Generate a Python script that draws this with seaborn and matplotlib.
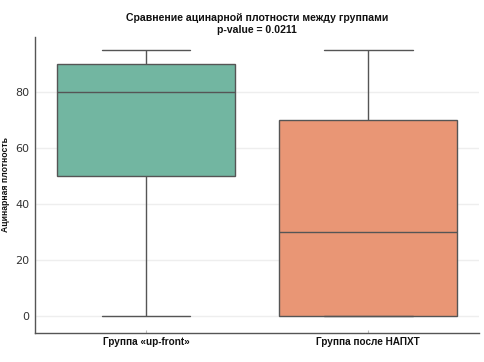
import pandas as pd
import numpy as np
import seaborn as sns
import matplotlib.pyplot as plt

# Данные
groups = ['Группа «up-front»', 'Группа после НАПХТ']
upfront = [0, 50, 50, 80, 90, 90, 95]
napxt = [0, 0, 0, 30, 70, 70, 95]
p_value = 0.0211

df = pd.DataFrame({
    'Группа': [groups[0]] * len(upfront) + [groups[1]] * len(napxt),
    'Ацинарная плотность': upfront + napxt,
})

sns.set_style('ticks')
plt.rcParams['font.family'] = ['DejaVu Sans']

fig = plt.figure(figsize=(4.85, 3.62), dpi=100)
ax = fig.add_axes([0.072, 0.08, 0.916, 0.818])

sns.boxplot(data=df, x='Группа', y='Ацинарная плотность', hue='Группа',
            palette='Set2', ax=ax, linewidth=1, linecolor='#555555', legend=False)

ax.yaxis.grid(True, color='#eeeeee', linewidth=1)
ax.set_axisbelow(True)
sns.despine(ax=ax)
for s in ['left', 'bottom']:
    ax.spines[s].set_color('#555555')
    ax.spines[s].set_linewidth(1)

ax.set_ylim(-6, 99.6)
ax.set_title(f'Сравнение ацинарной плотности между группами\np-value = {p_value}',
             fontsize=7.6, fontweight='bold', family='Liberation Sans', pad=3,
             color='#111111')
ax.set_xlabel('')
ax.set_ylabel('Ацинарная плотность', fontsize=6.2, fontweight='bold',
              family='Liberation Sans', labelpad=4, color='#111111')
ax.tick_params(axis='y', length=0, labelsize=8, labelcolor='#333333', pad=4)
ax.tick_params(axis='x', length=2, direction='in', color='#bbbbbb', pad=3)
for lbl in ax.get_xticklabels():
    lbl.set_fontweight('bold')
    lbl.set_family('Liberation Sans')
    lbl.set_fontsize(7.2)
    lbl.set_color('#111111')
ax.set_yticks([0, 20, 40, 60, 80])

plt.savefig('out.png', dpi=100)
